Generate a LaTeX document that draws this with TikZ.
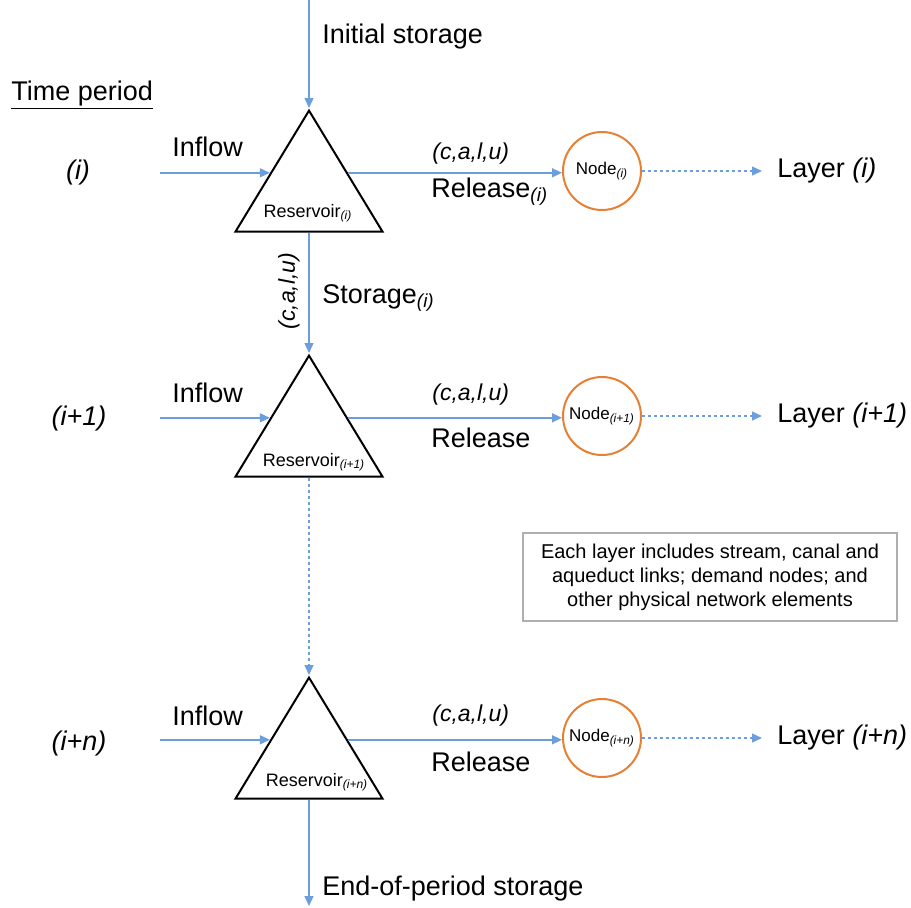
\documentclass[tikz,border=0pt]{standalone}
\usepackage{fontspec}
\setmainfont{Liberation Sans}
\usetikzlibrary{arrows.meta,shapes.geometric,calc,positioning}

\definecolor{flowblue}{RGB}{108,158,222}
\definecolor{nodeorange}{RGB}{230,128,52}
\definecolor{boxgray}{RGB}{175,175,175}

\tikzset{
  reservoir/.style={draw, line width=1pt, isosceles triangle, isosceles triangle stretches,
    shape border rotate=90, minimum width=73.5pt, minimum height=60.5pt, inner sep=0pt, anchor=apex},
  netnode/.style={draw=nodeorange, line width=1pt, circle, minimum size=39pt, inner sep=0pt,
    font=\fontsize{8.5}{10}\selectfont},
  flow/.style={draw=flowblue, line width=0.7pt, -{Triangle[length=5pt,width=4.5pt]}},
  layerflow/.style={flow, dash pattern=on 1.6pt off 1.4pt},
  biglabel/.style={font=\fontsize{13.5}{16}\selectfont, inner sep=0pt},
  arclabel/.style={font=\fontsize{11.5}{14}\selectfont\itshape, inner sep=0pt},
  reslabel/.style={font=\fontsize{9}{10}\selectfont, inner sep=0pt},
  notebox/.style={draw=boxgray, line width=0.75pt, minimum width=187pt, minimum height=44pt,
    align=center, font=\fontsize{10}{12}\selectfont}
}

\begin{document}
\begin{tikzpicture}[x=0.5pt,y=-0.5pt]
    \useasboundingbox (0,0) rectangle (911,907);

    % Time period column
    \node[biglabel, anchor=base west] (tp) at (11,100) {\underline{Time period}};
    \node[biglabel, anchor=base] (t1) at (78,179) {\textit{(i)}};
    \node[biglabel, anchor=base] (t2) at (79,425) {\textit{(i+1)}};
    \node[biglabel, anchor=base] (t3) at (79,750) {\textit{(i+n)}};

    % Reservoirs
    \node[reservoir] (r1) at (309,108) {};
    \node[reservoir] (r2) at (309,353) {};
    \node[reservoir] (r3) at (309,675) {};
    \node[reslabel, anchor=base] (r1name) at (308,217) {Reservoir\textsubscript{\itshape (i)}};
    \node[reslabel, anchor=base] (r2name) at (314,466) {Reservoir\textsubscript{\itshape (i+1)}};
    \node[reslabel, anchor=base] (r3name) at (317,786) {Reservoir\textsubscript{\itshape (i+n)}};

    % Points where inflow and release cross the triangle sides
    \coordinate (r1w) at ($(r1.apex)!0.52!(r1.left corner)$);
    \coordinate (r1e) at ($(r1.apex)!0.52!(r1.right corner)$);
    \coordinate (r2w) at ($(r2.apex)!0.52!(r2.left corner)$);
    \coordinate (r2e) at ($(r2.apex)!0.52!(r2.right corner)$);
    \coordinate (r3w) at ($(r3.apex)!0.52!(r3.left corner)$);
    \coordinate (r3e) at ($(r3.apex)!0.52!(r3.right corner)$);

    % Network nodes
    \node[netnode] (n1) at (602,171) {Node\textsubscript{\itshape (i)}};
    \node[netnode] (n2) at (602,416) {Node\textsubscript{\itshape (i+1)}};
    \node[netnode] (n3) at (602,738) {Node\textsubscript{\itshape (i+n)}};

    % Layers
    \node[biglabel, anchor=west] (lay1) at (777,171) {Layer \textit{(i)}};
    \node[biglabel, anchor=west] (lay2) at (777,416) {Layer \textit{(i+1)}};
    \node[biglabel, anchor=west] (lay3) at (777,738) {Layer \textit{(i+n)}};

    % Inflows
    \coordinate (src1) at (160,171);
    \coordinate (src2) at (160,416);
    \coordinate (src3) at (160,738);
    \draw[flow] (r1w -| src1) -- (r1w);
    \draw[flow] (r2w -| src2) -- (r2w);
    \draw[flow] (r3w -| src3) -- (r3w);
    \node[biglabel, anchor=base west] (in1) at (172,156) {Inflow};
    \node[biglabel, anchor=base west] (in2) at (172,402) {Inflow};
    \node[biglabel, anchor=base west] (in3) at (172,725) {Inflow};

    % Releases
    \draw[flow] (r1e) -- (r1e -| n1.west);
    \draw[flow] (r2e) -- (r2e -| n2.west);
    \draw[flow] (r3e) -- (r3e -| n3.west);
    \node[arclabel, anchor=base west] (c1) at (432,159) {(c,a,l,u)};
    \node[arclabel, anchor=base west] (c2) at (432,400) {(c,a,l,u)};
    \node[arclabel, anchor=base west] (c3) at (432,721) {(c,a,l,u)};
    \node[biglabel, anchor=base west] (rel1) at (431,197) {Release\textsubscript{\itshape (i)}};
    \node[biglabel, anchor=base west] (rel2) at (431,447) {Release};
    \node[biglabel, anchor=base west] (rel3) at (431,771) {Release};

    % Links out to each layer
    \draw[layerflow, shorten >=7.5pt] (n1.east) -- (n1.east -| lay1.west);
    \draw[layerflow, shorten >=7.5pt] (n2.east) -- (n2.east -| lay2.west);
    \draw[layerflow, shorten >=7.5pt] (n3.east) -- (n3.east -| lay3.west);

    % Storage carried between periods
    \coordinate (top) at (309,0);
    \coordinate (bot) at (309,906);
    \draw[flow] (top) -- (r1.apex);
    \draw[flow] (r1.lower side) -- (r2.apex);
    \draw[layerflow] (r2.lower side) -- (r3.apex);
    \draw[flow] (r3.lower side) -- (bot);
    \node[biglabel, anchor=base west] (init) at (322,43) {Initial storage};
    \node[biglabel, anchor=base west] (st1) at (322,303) {Storage\textsubscript{\itshape (i)}};
    \node[arclabel, rotate=90] (cs1) at (289,291) {(c,a,l,u)};
    \node[biglabel, anchor=base west] (endst) at (322,895) {End-of-period storage};

    % Note on layer contents
    \node[notebox] (note) at (710,577) {Each layer includes stream, canal and\\
      aqueduct links; demand nodes; and\\ other physical network elements};
\end{tikzpicture}
\end{document}
